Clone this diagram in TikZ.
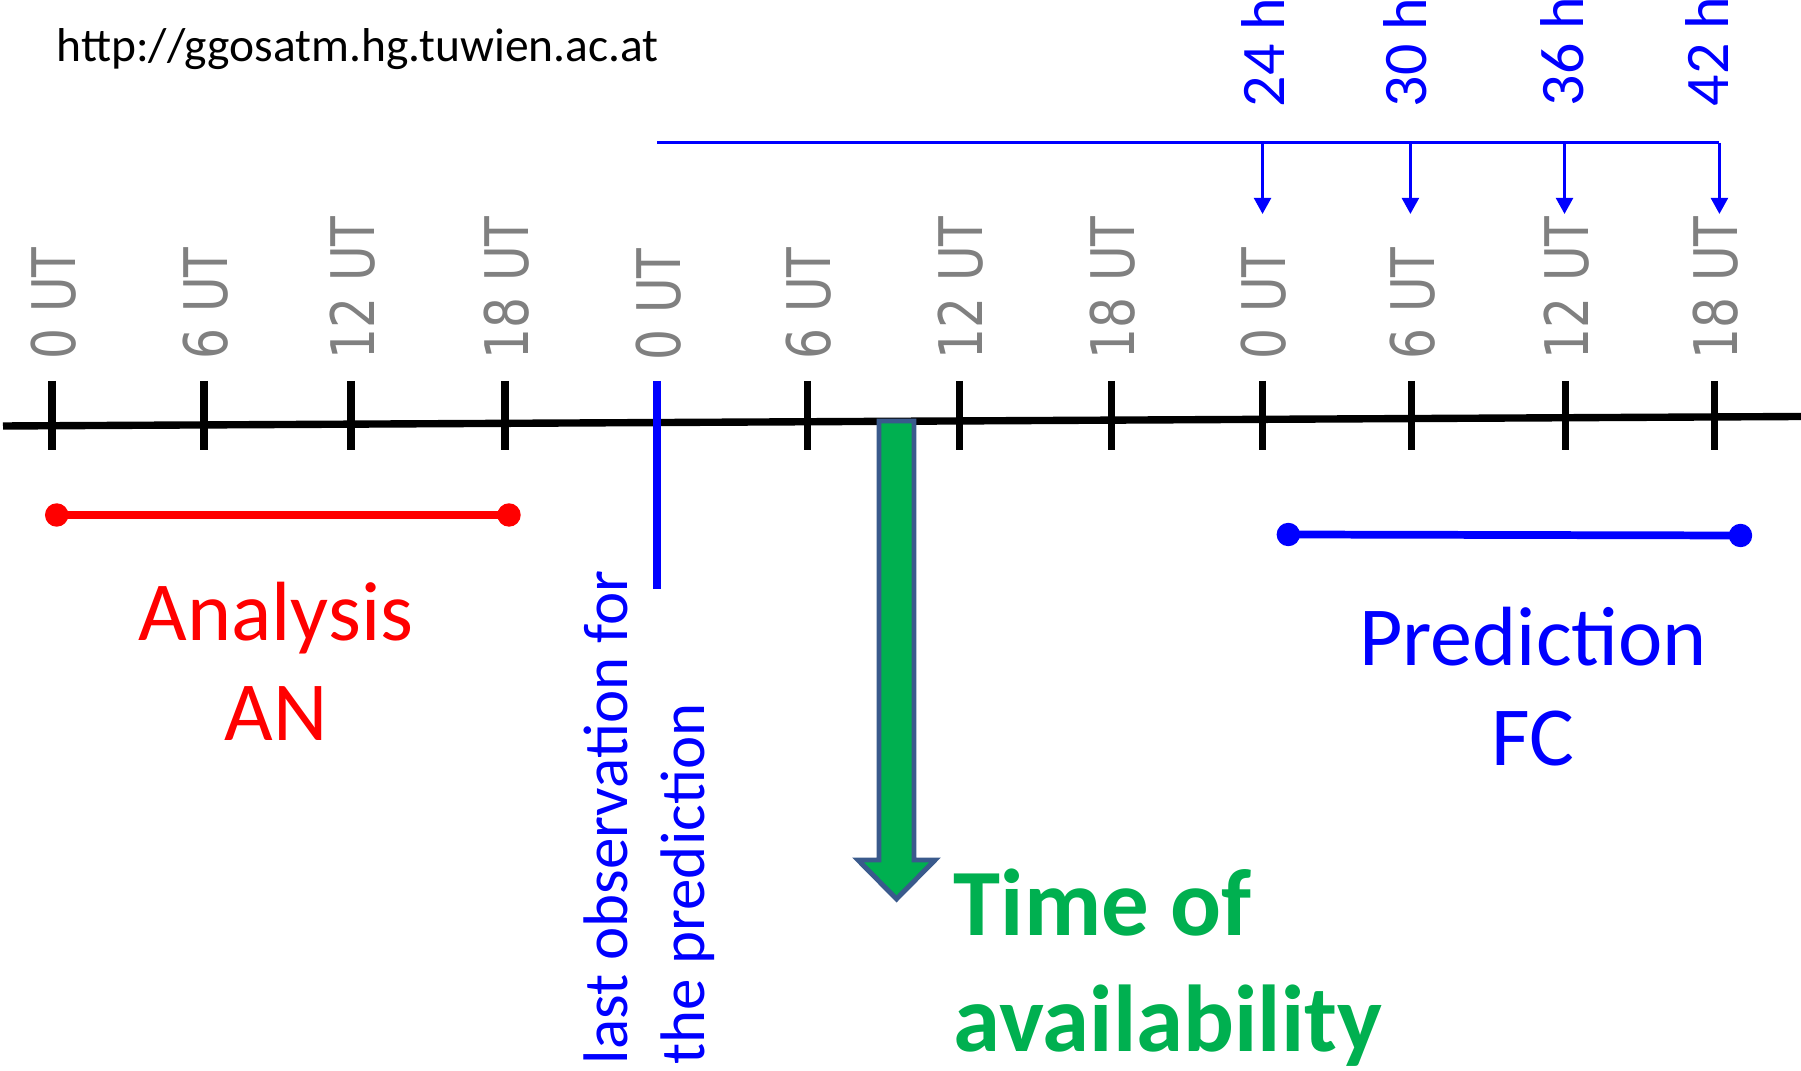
\documentclass[tikz,border=0pt]{standalone}
\usepackage{fontspec}
\setmainfont{Carlito}
\newfontfamily\dejavu{DejaVu Sans}
\usetikzlibrary{arrows.meta}

\definecolor{utgray}{RGB}{128,128,128}
\definecolor{avgreen}{RGB}{0,176,80}
\definecolor{avborder}{RGB}{58,90,140}

\newcommand{\utlab}[1]{\scalebox{0.81}[1]{#1 UT}}

\tikzset{
  utlabel/.style={rotate=90, anchor=west, inner sep=0pt, text=utgray,
    font=\dejavu\fontsize{17.1}{20}\selectfont},
  hlabel/.style={rotate=90, anchor=west, inner sep=0pt, text=blue,
    font=\fontsize{17.6}{21}\selectfont},
  tickline/.style={line width=2pt},
  fcarrow/.style={blue, line width=0.9pt, -{Triangle[width=4.8pt,length=4.6pt]}},
  periodline/.style={line width=2.2pt},
  bigtext/.style={align=center, anchor=base, inner sep=0pt,
    font=\fontsize{23.9}{28.7}\selectfont},
}

\begin{document}
\begin{tikzpicture}[x=0.01cm, y=-0.01cm]
\useasboundingbox (0,0) rectangle (1801,1071);

% web address
\node[anchor=base west, inner sep=0pt, font=\fontsize{13.5}{16}\selectfont] (url) at (56,62) {http://ggosatm.hg.tuwien.ac.at};

% time axis
\coordinate (axL) at (3,426);
\coordinate (axR) at (1801,416.5);
\draw[line width=2.1pt] (axL) -- (axR);

% ticks with UT labels
\foreach \x/\t/\n in {52/0/a0, 204/6/a6, 351/12/a12, 505/18/a18, 807/6/b6, 959/12/b12,
                      1111/18/b18, 1262/0/c0, 1411/6/c6, 1565/12/c12, 1714/18/c18}{
  \draw[tickline] (\x,381) -- (\x,450);
  \node[utlabel] (\n) at (\x+2,360) {\utlab{\t}};
}

% last observation (base = last line)
\node[utlabel] (b0) at (659,361) {\utlab{0}};
\coordinate (obsT) at (657,381);
\coordinate (obsB) at (657,589);
\draw[blue, line width=2pt] (obsT) -- (obsB);
\node[rotate=90, anchor=base west, align=left, inner sep=0pt, text=blue,
  font=\fontsize{17.9}{21.9}\selectfont] (obs) at (704,1065) {last observation for\\the prediction};

% time of availability
\draw[fill=avgreen, draw=avborder, line width=1.4pt] (879,421) -- (914,421) -- (914,860)
  -- (935,860) -- (896.5,899) -- (858,860) -- (879,860) -- cycle;
\node[anchor=base west, align=left, inner sep=0pt, text=avgreen,
  font=\bfseries\fontsize{27}{32.9}\selectfont] (avail) at (953,1051) {Time of\\availability};

% analysis
\coordinate (anL) at (56.7,515);
\coordinate (anR) at (509,515);
\draw[periodline, red] (anL) -- (anR);
\fill[red] (anL) circle (0.117cm) (anR) circle (0.117cm);
\node[bigtext, text=red] (an) at (276,741) {Analysis\\AN};

% prediction
\coordinate (fcL) at (1288.3,534.5);
\coordinate (fcR) at (1740.5,535.5);
\draw[periodline, blue] (fcL) -- (fcR);
\fill[blue] (fcL) circle (0.117cm) (fcR) circle (0.117cm);
\node[bigtext, text=blue] (fc) at (1533,766) {Prediction\\FC};

% forecast hours
\coordinate (fcS) at (657,142.7);
\coordinate (fcE) at (1719.4,142.7);
\draw[blue, line width=1pt] (fcS) -- (fcE);
\foreach \x/\lx/\ly/\h in {1262.5/1263/108/24, 1410.4/1405/108/30,
                           1564.5/1562/107/36, 1719.4/1707/107/42}{
  \coordinate (s\h) at (\x,142.7);
  \coordinate (e\h) at (\x,214);
  \draw[fcarrow] (s\h) -- (e\h);
  \node[hlabel] (h\h) at (\lx,\ly) {\h{} h};
}

\end{tikzpicture}
\end{document}
